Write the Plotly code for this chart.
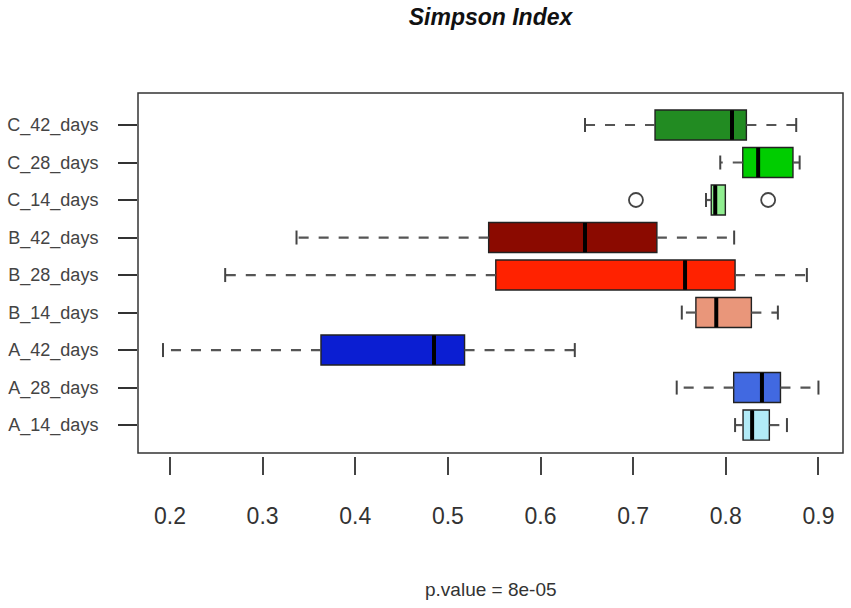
import plotly.graph_objects as go

# Box statistics (Simpson index per group)
categories = ["A_14_days", "A_28_days", "A_42_days",
              "B_14_days", "B_28_days", "B_42_days",
              "C_14_days", "C_28_days", "C_42_days"]
lower = [0.810, 0.747, 0.1925, 0.7525, 0.2596, 0.3366, 0.7786, 0.794, 0.648]
q1 = [0.8186, 0.8085, 0.363, 0.7677, 0.5517, 0.544, 0.7843, 0.8183, 0.7236]
median = [0.8284, 0.839, 0.485, 0.7897, 0.756, 0.648, 0.7886, 0.8349, 0.8067]
q3 = [0.847, 0.859, 0.518, 0.8276, 0.810, 0.7256, 0.7995, 0.8725, 0.8222]
upper = [0.866, 0.900, 0.637, 0.8562, 0.8875, 0.809, 0.7995, 0.8797, 0.876]
colors = ["#B2EBF7", "#4169E1", "#0B1ED2",
          "#E9967A", "#FF2200", "#8B0A00",
          "#90EE90", "#00CD00", "#228B22"]

outlier_group = "C_14_days"
outlier_values = [0.703, 0.8457]

p_value_text = "p.value = 8e-05"
x_ticks = [0.2, 0.3, 0.4, 0.5, 0.6, 0.7, 0.8, 0.9]

FONT = "Liberation Sans, Arial, sans-serif"
fig = go.Figure()

# boxes (whiskers suppressed here, drawn dashed below like R)
for cat, a, m, b, col in zip(categories, q1, median, q3, colors):
    fig.add_trace(go.Box(
        y=[cat], q1=[a], median=[m], q3=[b],
        lowerfence=[a], upperfence=[b],
        orientation="h", width=0.8,
        fillcolor=col, line=dict(color="#222222", width=1.4),
        boxpoints=False, showlegend=False, hoverinfo="skip"
    ))

# dashed whiskers (pattern starts at the box) + caps
for cat, lo, a, b, hi in zip(categories, lower, q1, q3, upper):
    fig.add_trace(go.Scatter(
        x=[a, lo, None, b, hi], y=[cat, cat, None, cat, cat],
        mode="lines", line=dict(color="#555555", width=2.2, dash="10px,10px"),
        showlegend=False, hoverinfo="skip"
    ))
    caps_x = [v for v, e in ((lo, a), (hi, b)) if v != e]
    fig.add_trace(go.Scatter(
        x=caps_x, y=[cat] * len(caps_x), mode="markers",
        marker=dict(symbol="line-ns", size=10,
                    line=dict(color="#444444", width=2)),
        showlegend=False, hoverinfo="skip"
    ))

# thick medians
fig.add_trace(go.Scatter(
    x=median, y=categories, mode="markers",
    marker=dict(symbol="line-ns", size=21, line=dict(color="black", width=4)),
    showlegend=False, hoverinfo="skip"
))

# outliers
fig.add_trace(go.Scatter(
    x=outlier_values, y=[outlier_group] * len(outlier_values), mode="markers",
    marker=dict(symbol="circle-open", size=14, color="#444444",
                line=dict(width=1.8)),
    showlegend=False, hoverinfo="skip"
))

# frame around the plot region
fig.add_shape(type="rect", xref="x domain", yref="y domain",
              x0=0, x1=1, y0=0, y1=1,
              line=dict(color="#333333", width=1.5))

fig.add_annotation(text=p_value_text, x=0.5, xref="paper",
                   y=-0.369, yref="paper", yanchor="middle",
                   showarrow=False, font=dict(family=FONT, size=19, color="#333333"))

fig.update_layout(
    width=851, height=608,
    margin=dict(l=138, r=8, t=93, b=152),
    plot_bgcolor="white", paper_bgcolor="white",
    title=dict(text="<b><i>Simpson Index</i></b>", x=0.5, xref="paper",
               y=1 - 17 / 608, yanchor="middle",
               font=dict(family=FONT, size=23, color="#111111")),
    xaxis=dict(range=[0.1655, 0.9265], tickvals=x_ticks,
               ticktext=[f"{v:.1f}" for v in x_ticks],
               anchor="free", position=0, showline=False,
               showgrid=False, zeroline=False,
               ticks="outside", ticklen=18, tickwidth=1.5, tickcolor="#444444",
               ticklabelstandoff=21,
               tickfont=dict(family=FONT, size=23, color="#333333")),
    yaxis=dict(type="category", categoryorder="array", categoryarray=categories,
               range=[-0.747, 8.853], domain=[0.008, 1],
               showline=False, showgrid=False, zeroline=False,
               ticks="outside", ticklen=19, tickwidth=1.5, tickcolor="#333333",
               ticklabelstandoff=16,
               tickfont=dict(family=FONT, size=18, color="#444444")),
)

# drop the browser's default 8px body margin so the figure sits at (0, 0)
fig.write_html("out.html", config={"displayModeBar": False},
               post_script="document.body.style.margin='0';")
